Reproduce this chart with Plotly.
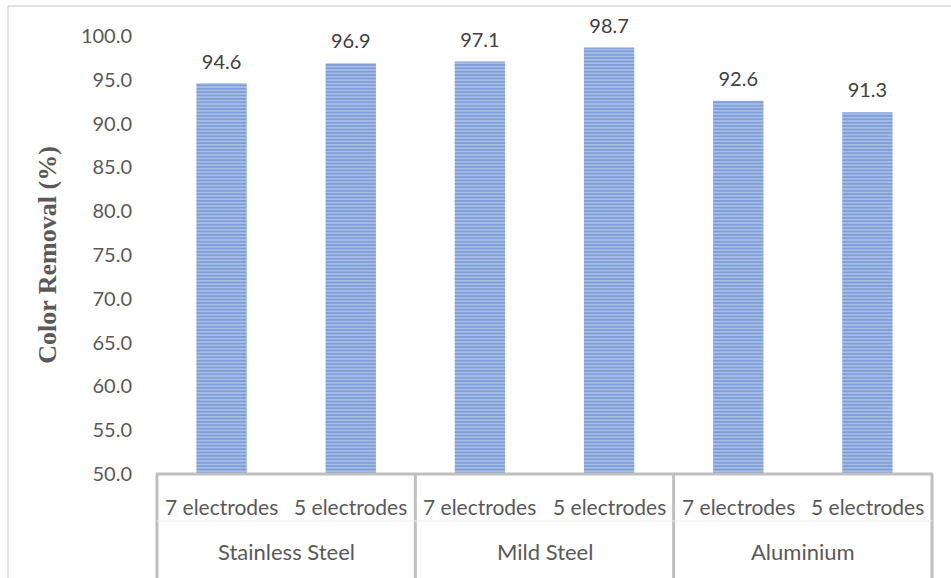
import plotly.graph_objects as go

groups = ["Stainless Steel", "Mild Steel", "Aluminium"]
electrodes = ["7 electrodes", "5 electrodes", "7 electrodes", "5 electrodes", "7 electrodes", "5 electrodes"]
group_of_bar = ["Stainless Steel", "Stainless Steel", "Mild Steel", "Mild Steel", "Aluminium", "Aluminium"]
values = [94.6, 96.9, 97.1, 98.7, 92.6, 91.3]
y_ticks = [50, 55, 60, 65, 70, 75, 80, 85, 90, 95, 100]

cats = [f"{g}|{e}" for g, e in zip(group_of_bar, electrodes)]
n = len(cats)

L, R, T, B = 157, 19, 36, 104
PLOT_W = 951 - L - R
PLOT_H = 578 - T - B

fig = go.Figure()
fig.add_trace(go.Bar(
    x=cats, y=values, base=0,
    marker=dict(
        color="#b9caec",
        line=dict(width=0),
        pattern=dict(shape="-", fgcolor="#4472C4", bgcolor="#b9caec", size=3.4, solidity=0.66),
    ),
    hoverinfo="y",
))
fig.add_trace(go.Scatter(
    x=cats, y=values, mode="markers+text",
    text=[f"{v:.1f}" for v in values],
    textposition="top center",
    textfont=dict(family="Lato", size=20, color="#404040"),
    marker=dict(size=14, opacity=0),
    cliponaxis=False, hoverinfo="skip",
))

annotations = []
for i, e in enumerate(electrodes):
    annotations.append(dict(
        x=cats[i], y=-(506 - 474) / PLOT_H, xref="x", yref="paper",
        text=e, showarrow=False, xanchor="center", yanchor="middle",
        font=dict(family="Lato", size=21, color="#595959"),
    ))
ng = len(groups)
for j, g in enumerate(groups):
    annotations.append(dict(
        x=(j + 0.5) / ng, y=-(551 - 474) / PLOT_H, xref="paper", yref="paper",
        text=g, showarrow=False, xanchor="center", yanchor="middle",
        font=dict(family="Lato", size=22, color="#595959"),
    ))

shapes = []
for j in range(ng + 1):
    shapes.append(dict(type="line", xref="paper", yref="paper",
                       x0=j / ng, x1=j / ng, y0=0, y1=-B / PLOT_H - 0.01,
                       line=dict(color="#bfbfbf", width=3)))
shapes.append(dict(type="line", xref="paper", yref="paper", x0=-1/PLOT_W, x1=1 + 1/PLOT_W,
                   y0=0, y1=0, line=dict(color="#bfbfbf", width=3)))
shapes.append(dict(type="line", xref="paper", yref="paper", x0=0, x1=1,
                   y0=-(521 - 474) / PLOT_H, y1=-(521 - 474) / PLOT_H,
                   line=dict(color="#ececec", width=1)))
# chart-area border
shapes.append(dict(type="line", xref="paper", yref="paper", x0=-(L - 8)/PLOT_W, x1=1.1,
                   y0=1 + 30/PLOT_H, y1=1 + 30/PLOT_H, line=dict(color="#d9d9d9", width=1.5)))
shapes.append(dict(type="line", xref="paper", yref="paper", x0=-(L - 8)/PLOT_W, x1=-(L - 8)/PLOT_W,
                   y0=1 + 30/PLOT_H, y1=-0.3, line=dict(color="#d9d9d9", width=1.5)))

fig.update_layout(
    width=951, height=578,
    margin=dict(l=L, r=R, t=T, b=B),
    paper_bgcolor="white", plot_bgcolor="white",
    bargap=0.61,
    showlegend=False,
    font=dict(family="Lato", size=18, color="#595959"),
    xaxis=dict(showticklabels=False, showline=False, showgrid=False, ticks="",
               zeroline=False),
    yaxis=dict(
        range=[50, 100], tickvals=y_ticks, tickformat=".1f",
        showgrid=False, showline=False, zeroline=False,
        ticks="outside", ticklen=20, tickcolor="rgba(0,0,0,0)",
        tickfont=dict(family="Lato", size=20, color="#595959"),
        title=dict(text="<b>Color Removal (%)</b>", standoff=16,
                   font=dict(family="Liberation Serif", size=26, color="#595959")),
    ),
    annotations=annotations,
    shapes=shapes,
)
fig.write_html("out.html")
